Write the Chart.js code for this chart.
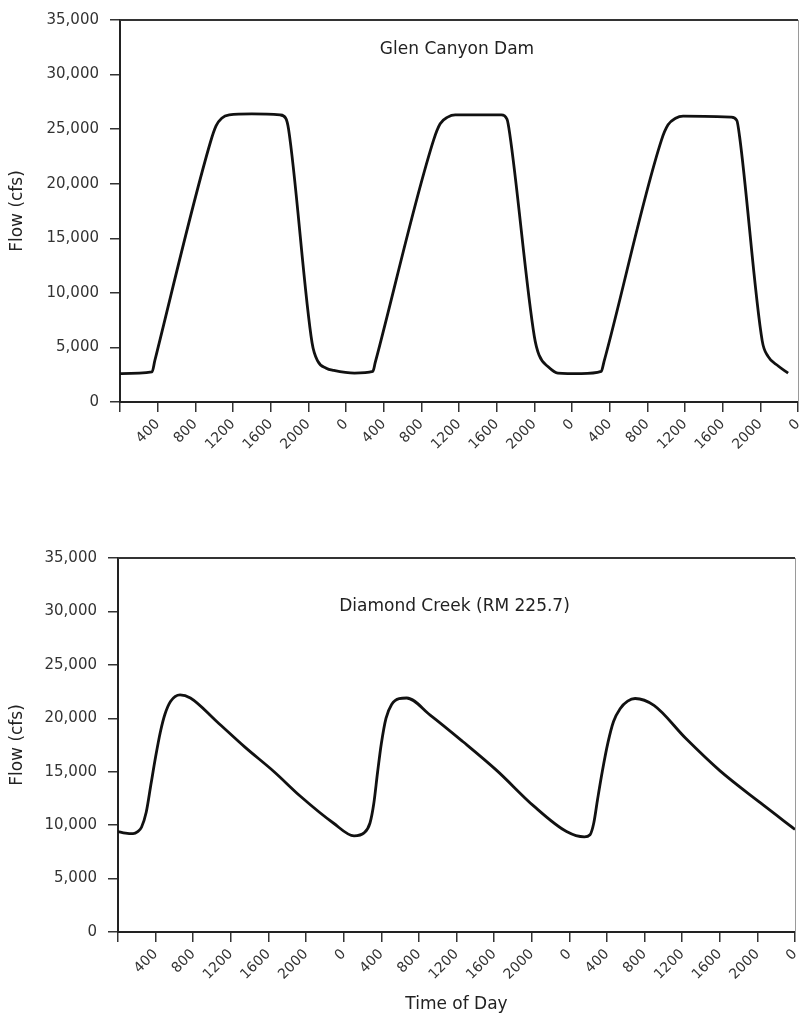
<!DOCTYPE html>
<html>
<head>
<meta charset="utf-8">
<script src="https://cdn.jsdelivr.net/npm/chart.js@4.4.1/dist/chart.umd.min.js"></script>
<style>
    html, body { margin: 0; padding: 0; background: #fff; overflow: hidden; }
    .panel { position: absolute; left: 0; }
</style>
</head>
<body>
<div class="panel" style="top:0"><canvas id="glen" width="815" height="480"></canvas></div>
<div class="panel" style="top:480px"><canvas id="diamond" width="815" height="540"></canvas></div>
<script>
// hours since start of day 1, flow in cfs
const glenHours = [
    0, 3.4, 3.7, 9.6, 10.2, 10.8, 11.6, 14.0, 17.0, 17.6, 17.9, 20.4, 21.0, 21.9, 22.7,
    24.9, 26.85, 27.1, 33.3, 34.0, 34.8, 35.6, 40.5, 41.1, 41.4, 44.0, 44.5, 45.5,
    46.5, 49.0, 51.1, 51.4, 57.5, 58.2, 59.0, 59.8, 64.9, 65.5, 65.8, 68.2, 68.8,
    69.9, 70.95,
];
const glenFlow = [
    2600, 2750, 3800, 23800, 25300, 26000, 26300, 26400, 26300, 26000, 25000, 5400, 3750, 3100, 2900,
    2650, 2800, 3600, 24000, 25500, 26100, 26300, 26300, 25900, 24500, 6000, 4300, 3200,
    2650, 2600, 2800, 3700, 24000, 25400, 26000, 26200, 26100, 25800, 24300, 5600, 4200,
    3300, 2650,
];

const diamondHours = [
    0, 0.8, 1.6, 2.1, 2.5, 3.0, 3.5, 4.0, 4.5, 5.0, 5.6, 6.6, 7.7, 10.5, 13.5, 16.6, 19.4, 22.9, 25.1,
    26.2, 26.8, 27.2, 27.6, 28.0, 28.5, 29.1, 29.9, 30.7, 33.2, 36.7, 40.3, 44.2, 47.7, 49.6,
    50.2, 50.6, 51.0, 51.5, 52.1, 52.7, 53.4, 54.2, 55.0, 57.0, 60.4, 64.0, 68.3, 72,
];
const diamondFlow = [
    9400, 9250, 9200, 9400, 9800, 11200, 13800, 16400, 18700, 20400, 21600, 22200, 21900, 19700, 17300, 15000, 12700, 10200, 9000,
    9300, 10200, 12000, 14900, 17600, 20000, 21300, 21850, 21900, 20300, 17800, 15100, 11800, 9400, 8900,
    9100, 10200, 12400, 15000, 17700, 19700, 20900, 21600, 21850, 21200, 18100, 15100, 12100, 9600,
];

const flowMax = 35000;
const flowStep = 5000;
const hourMax = 72;
const hourStep = 4;

const FONT = '"DejaVu Sans", sans-serif';

// top and right border of the plot, plus the station name inside it
const frame = {
    id: "frame",
    afterDraw(chart, args, opts) {
        const { ctx, chartArea: a } = chart;
        ctx.save();
        ctx.strokeStyle = "#333";
        ctx.lineWidth = 2;
        ctx.beginPath();
        ctx.moveTo(a.left, a.top);
        ctx.lineTo(a.right, a.top);
        ctx.stroke();
        ctx.strokeStyle = "#9a9a9a";
        ctx.lineWidth = 1;
        ctx.beginPath();
        ctx.moveTo(a.right + 0.5, a.top);
        ctx.lineTo(a.right + 0.5, a.bottom);
        ctx.stroke();
        ctx.font = "17px " + FONT;
        ctx.fillStyle = "#222";
        ctx.textAlign = "center";
        ctx.textBaseline = "middle";
        ctx.fillText(opts.label, (a.left + a.right) / 2 - 2, opts.labelY);
        ctx.restore();
    },
};

function makeChart(id, hours, flow, cfg) {
    const canvas = document.getElementById(id);
    return new Chart(canvas.getContext("2d"), {
        type: "line",
        data: {
            datasets: [
                {
                    data: hours.map((h, i) => ({ x: h, y: flow[i] })),
                    borderColor: "#111",
                    borderWidth: 2.8,
                    pointRadius: 0,
                    fill: false,
                    cubicInterpolationMode: "monotone",
                },
            ],
        },
        options: {
            responsive: false,
            animation: false,
            layout: { padding: { left: 0, top: cfg.top, right: cfg.right, bottom: 0 } },
            plugins: {
                legend: { display: false },
                tooltip: { enabled: false },
                frame: { label: cfg.label, labelY: cfg.labelY },
            },
            scales: {
                x: {
                    type: "linear",
                    min: 0,
                    max: hourMax,
                    afterFit: (s) => { s.height = cfg.xHeight; },
                    border: { display: true, color: "#222", width: 2 },
                    grid: { drawOnChartArea: false, drawTicks: true, tickLength: 10, color: "#333", lineWidth: 1.5 },
                    ticks: {
                        stepSize: hourStep,
                        autoSkip: false,
                        maxRotation: 45,
                        minRotation: 45,
                        padding: 4,
                        color: "#333",
                        font: { family: FONT, size: 14 },
                        callback: (v) => (v === 0 ? "" : String((v % 24) * 100)),
                    },
                    title: {
                        display: !!cfg.xTitle,
                        text: cfg.xTitle || "",
                        color: "#222",
                        font: { family: FONT, size: 17 },
                        padding: { top: 0, bottom: 5 },
                    },
                },
                y: {
                    min: 0,
                    max: flowMax,
                    afterFit: (s) => { s.width = cfg.yWidth; },
                    border: { display: true, color: "#222", width: 2 },
                    grid: { drawOnChartArea: false, drawTicks: true, tickLength: 10, color: "#333", lineWidth: 1.5 },
                    ticks: {
                        stepSize: flowStep,
                        padding: 11,
                        color: "#333",
                        font: { family: FONT, size: 15 },
                        callback: (v) => v.toLocaleString("en-US"),
                    },
                    title: {
                        display: true,
                        text: "Flow (cfs)",
                        color: "#222",
                        font: { family: FONT, size: 17 },
                        padding: { top: 7, bottom: 0 },
                    },
                },
            },
        },
        plugins: [frame],
    });
}

makeChart("glen", glenHours, glenFlow, {
    label: "Glen Canyon Dam",
    labelY: 50,
    top: 16,
    right: 17,
    yWidth: 120,
    xHeight: 78,
});

makeChart("diamond", diamondHours, diamondFlow, {
    label: "Diamond Creek (RM 225.7)",
    labelY: 127,
    top: 78,
    right: 20,
    yWidth: 118,
    xHeight: 88,
    xTitle: "Time of Day",
});
</script>
</body>
</html>
